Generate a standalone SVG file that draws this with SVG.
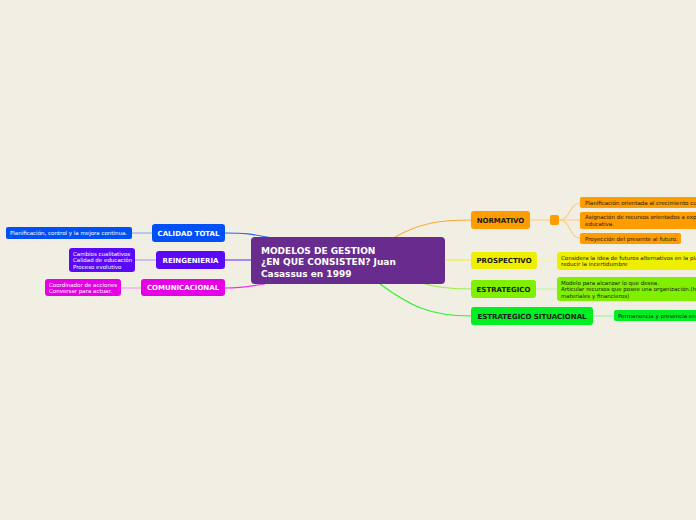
<svg xmlns="http://www.w3.org/2000/svg" width="696" height="520" viewBox="0 0 696 520">
<style>
.main{font-family:"DejaVu Sans",Verdana,sans-serif;font-weight:bold;font-size:7px}
.leaf{font-family:"DejaVu Sans",Verdana,sans-serif;font-size:5.5px}
.w{fill:#ffffff}
.k{fill:#1a1a1a}
.c{fill:none;stroke-width:1.2}
</style>
<rect width="696" height="520" fill="#f1efe3"/>
<g id="connectors">
<path class="c" stroke="#2a66f0" d="M225,233 C250,233 255,235 272,238"/>
<path class="c" stroke="#7a3cff" d="M225,260 L251,260"/>
<path class="c" stroke="#ee33ee" d="M225,288 C245,288 255,285 265,284"/>
<path class="c" stroke="#8fb0f5" d="M132,233 L152,233"/>
<path class="c" stroke="#b79cff" d="M135,260 L156,260"/>
<path class="c" stroke="#f59cf5" d="M121,288 L141,288"/>
<path class="c" stroke="#ffaa33" d="M395,237 C420,223 440,220 471,220"/>
<path class="c" stroke="#eeee44" d="M445,260 L471,260"/>
<path class="c" stroke="#99ee44" d="M425,284 C440,288 455,289 471,289"/>
<path class="c" stroke="#33ee33" d="M380,284 C410,306 430,316 471,316"/>
<path class="c" stroke="#ffcc80" d="M530,220 L550,220"/>
<path class="c" stroke="#ffcc80" d="M559,220 L580,220"/>
<path class="c" stroke="#ffcc80" d="M559,220 C571,220 569,203 580,203"/>
<path class="c" stroke="#ffcc80" d="M559,220 C571,220 569,238 580,238"/>
<path class="c" stroke="#f5f59a" d="M537,261 L557,261"/>
<path class="c" stroke="#c6f59a" d="M536,289 L557,289"/>
<path class="c" stroke="#9af5a6" d="M593,316 L614,316"/>
</g>
<g id="center">
<rect x="251" y="237" width="194" height="47" rx="4" fill="#672c8e"/>
<text font-family="DejaVu Sans,Verdana,sans-serif" font-weight="bold" font-size="9" fill="#ffffff">
<tspan x="261" y="253.5">MODELOS DE GESTION</tspan>
<tspan x="261" y="265">¿EN QUE CONSISTEN? Juan</tspan>
<tspan x="261" y="276.5">Casassus en 1999</tspan>
</text>
</g>
<g id="calidad">
<rect x="152" y="224" width="73" height="18" rx="3" fill="#0050f5"/>
<text class="main w" x="188.5" y="235.5" text-anchor="middle">CALIDAD TOTAL</text>
</g>
<g id="calidad-leaf">
<rect x="6" y="227" width="126" height="12" rx="2" fill="#0050f5"/>
<text class="leaf w" x="10" y="235">Planificación, control y la mejora continua.</text>
</g>
<g id="reingenieria">
<rect x="156" y="251" width="69" height="18" rx="3" fill="#5a0af5"/>
<text class="main w" x="190.5" y="262.5" text-anchor="middle">REINGENIERIA</text>
</g>
<g id="reingenieria-leaf">
<rect x="69" y="248" width="66" height="24" rx="3" fill="#5a0af5"/>
<text class="leaf w"><tspan x="73" y="255.5">Cambios cualitativos</tspan><tspan x="73" y="262">Calidad de educación</tspan><tspan x="73" y="268.8">Proceso evolutivo</tspan></text>
</g>
<g id="comunicacional">
<rect x="141" y="279" width="84" height="17" rx="3" fill="#e600e6"/>
<text class="main w" x="183" y="290" text-anchor="middle">COMUNICACIONAL</text>
</g>
<g id="comunicacional-leaf">
<rect x="45" y="279" width="76" height="17" rx="3" fill="#e600e6"/>
<text class="leaf w"><tspan x="49" y="286.5">Coordinador de acciones</tspan><tspan x="49" y="293">Conversar para actuar.</tspan></text>
</g>
<g id="normativo">
<rect x="471" y="211" width="59" height="18" rx="3" fill="#ff9c00"/>
<text class="main k" x="500.5" y="222.5" text-anchor="middle">NORMATIVO</text>
</g>
<g id="normativo-hub">
<rect x="550" y="215" width="9" height="10" rx="2" fill="#ff9c00"/>
</g>
<g id="normativo-leaf1">
<rect x="580" y="197" width="130" height="11" rx="2" fill="#ff9c00"/>
<text class="leaf k" x="585" y="204.5">Planificación orientada al crecimiento cuantitativo</text>
</g>
<g id="normativo-leaf2">
<rect x="580" y="212" width="130" height="17" rx="2" fill="#ff9c00"/>
<text class="leaf k"><tspan x="585" y="219">Asignación de recursos orientados a expandir la cobertura</tspan><tspan x="585" y="225.5">educativa.</tspan></text>
</g>
<g id="normativo-leaf3">
<rect x="580" y="233" width="101" height="11" rx="2" fill="#ff9c00"/>
<text class="leaf k" x="585" y="240.5">Proyección del presente al futuro.</text>
</g>
<g id="prospectivo">
<rect x="471" y="252" width="66" height="17" rx="3" fill="#eeee00"/>
<text class="main k" x="504" y="263" text-anchor="middle">PROSPECTIVO</text>
</g>
<g id="prospectivo-leaf">
<rect x="557" y="252" width="150" height="18" rx="3" fill="#eeee00"/>
<text class="leaf k"><tspan x="561" y="259.5">Considera la idea de futuros alternativos en la planificación para</tspan><tspan x="561" y="266">reducir la incertidumbre</tspan></text>
</g>
<g id="estrategico">
<rect x="471" y="280" width="65" height="18" rx="3" fill="#80f000"/>
<text class="main k" x="503.5" y="291.5" text-anchor="middle">ESTRATEGICO</text>
</g>
<g id="estrategico-leaf">
<rect x="557" y="277" width="150" height="24" rx="3" fill="#80f000"/>
<text class="leaf k"><tspan x="561" y="284.5">Modelo para alcanzar lo que desea.</tspan><tspan x="561" y="291">Articular recursos que posee una organización.(humanos, técnicos,</tspan><tspan x="561" y="297.8">materiales y financieros)</tspan></text>
</g>
<g id="situacional">
<rect x="471" y="307" width="122" height="18" rx="3" fill="#00ee22"/>
<text class="main k" x="532" y="318.5" text-anchor="middle">ESTRATEGICO SITUACIONAL</text>
</g>
<g id="situacional-leaf">
<rect x="614" y="310" width="96" height="11" rx="2" fill="#00ee22"/>
<text class="leaf k" x="618" y="317.8">Permanencia y presencia en el tiempo</text>
</g>
</svg>
